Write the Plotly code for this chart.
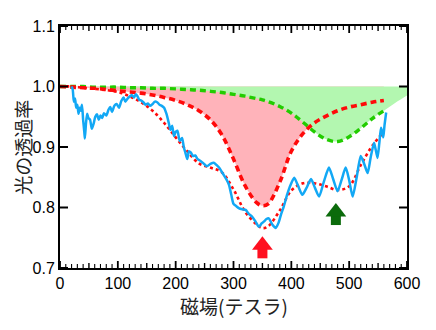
import plotly.graph_objects as go

# ---- data ----
field_model = [0, 20, 40, 60, 80, 100, 120, 140, 160, 180, 200, 220, 240, 260, 280, 300,
               320, 340, 350, 360, 380, 400, 420, 440, 460, 480, 500, 520, 540, 560]
red_dip = [1.0, 0.999, 0.998, 0.997, 0.995, 0.993, 0.991, 0.989, 0.986, 0.982, 0.977, 0.970,
           0.960, 0.945, 0.920, 0.880, 0.836, 0.808, 0.803, 0.806, 0.842, 0.893, 0.922, 0.940,
           0.951, 0.960, 0.966, 0.970, 0.974, 0.977]
green_dip = [1.0, 1.0, 1.0, 0.999, 0.999, 0.999, 0.998, 0.998, 0.997, 0.997, 0.996, 0.995,
             0.994, 0.992, 0.990, 0.987, 0.984, 0.980, 0.978, 0.975, 0.967, 0.956, 0.941, 0.925,
             0.913, 0.909, 0.917, 0.931, 0.947, 0.960]
fit_total = [1.0, 1.0, 0.998, 0.996, 0.994, 0.991, 0.984, 0.974, 0.960, 0.940, 0.916, 0.893,
             0.873, 0.866, 0.858, 0.830, 0.793, 0.772, 0.766, 0.769, 0.795, 0.828, 0.840, 0.840,
             0.835, 0.829, 0.835, 0.870, 0.902, 0.925]
green_fill_x = [560, 580, 600]
green_fill_y = [0.960, 0.973, 0.985]

meas_field = [20, 22, 24, 26, 28, 30, 32, 34, 36, 38, 40, 42, 43, 45, 47, 49, 52, 55, 58, 61,
              64, 67, 70, 73, 76, 80, 84, 87, 90, 94, 98, 102, 106, 110, 113, 116, 120, 124,
              128, 131, 134, 137, 140, 144, 148, 152, 156, 160, 164, 168, 172, 176, 180, 184,
              188, 191, 194, 197, 200, 203, 207, 211, 214, 217, 220, 223, 226, 230, 234, 238,
              243, 248, 254, 260, 266, 271, 275, 279, 283, 288, 292, 296, 300, 305, 309, 315,
              321, 326, 332, 338, 344, 349, 353, 357, 361, 367, 373, 378, 382, 387, 393, 399,
              405, 412, 419, 426, 434, 441, 448, 456, 465, 472, 480, 487, 494, 500, 506, 513,
              520, 526, 532, 537, 543, 546, 549, 552, 555, 557, 559, 561, 564]
meas_trans = [1.0, 0.995, 0.975, 0.98, 0.965, 0.97, 0.955, 0.965, 0.96, 0.97, 0.945, 0.925,
              0.914, 0.94, 0.955, 0.948, 0.945, 0.93, 0.938, 0.95, 0.954, 0.945, 0.952, 0.948,
              0.956, 0.952, 0.962, 0.966, 0.958, 0.968, 0.971, 0.965, 0.976, 0.982, 0.975,
              0.979, 0.983, 0.986, 0.982, 0.987, 0.984, 0.978, 0.977, 0.974, 0.97, 0.972, 0.968,
              0.971, 0.975, 0.974, 0.97, 0.968, 0.965, 0.955, 0.94, 0.928, 0.935, 0.918, 0.925,
              0.927, 0.91, 0.915, 0.9, 0.89, 0.88, 0.893, 0.891, 0.885, 0.886, 0.88, 0.877,
              0.873, 0.868, 0.872, 0.874, 0.87, 0.866, 0.86, 0.854, 0.846, 0.838, 0.822, 0.806,
              0.802, 0.799, 0.797, 0.796, 0.79, 0.785, 0.777, 0.768, 0.774, 0.777, 0.781, 0.782,
              0.772, 0.766, 0.775, 0.788, 0.802, 0.822, 0.838, 0.849, 0.835, 0.821, 0.832,
              0.847, 0.832, 0.818, 0.842, 0.866, 0.848, 0.827, 0.846, 0.866, 0.845, 0.818, 0.85,
              0.885, 0.872, 0.857, 0.882, 0.907, 0.895, 0.882, 0.905, 0.932, 0.925, 0.916,
              0.935, 0.957]

arrow_field = [350, 477]
arrow_head_center = [0.7375, 0.7925]
arrow_stem_bottom = [0.716, 0.771]
arrow_stem_top = [0.741, 0.796]
arrow_colors = ["#ff1020", "#0b6b0b"]

x_title = "磁場(テスラ)"
y_title = "光の透過率"
x_range = [0, 600]
y_range = [0.7, 1.1]
x_tick_step = 100
x_mid_step = 50
x_minor_step = 10
y_tick_step = 0.1

# ---- geometry of the frame (pixels -> data units for tick marks) ----
W, H = 436, 330
M = dict(l=60, r=29, t=26, b=62)
plot_w = W - M["l"] - M["r"]
plot_h = H - M["t"] - M["b"]
ux = (x_range[1] - x_range[0]) / plot_w
uy = (y_range[1] - y_range[0]) / plot_h

fig = go.Figure()
ones_model = [1.0 for _ in field_model]
fig.add_trace(go.Scatter(x=field_model, y=ones_model, mode="lines",
                         line=dict(width=0), hoverinfo="skip"))
fig.add_trace(go.Scatter(x=field_model, y=red_dip, mode="lines", fill="tonexty",
                         line_shape="spline", fillcolor="#ffb3ba", line=dict(width=0),
                         hoverinfo="skip"))
gx = field_model + green_fill_x[1:]
gy = green_dip + green_fill_y[1:]
fig.add_trace(go.Scatter(x=gx, y=[1.0 for _ in gx], mode="lines",
                         line=dict(width=0), hoverinfo="skip"))
fig.add_trace(go.Scatter(x=gx, y=gy, mode="lines", fill="tonexty", line_shape="spline",
                         fillcolor="#b3f7b0", line=dict(width=0), hoverinfo="skip"))
fig.add_trace(go.Scatter(x=field_model, y=green_dip, mode="lines", line_shape="spline",
                         line=dict(color="#22cc00", width=3.4, dash="6px,4px")))
fig.add_trace(go.Scatter(x=field_model, y=red_dip, mode="lines", line_shape="spline",
                         line=dict(color="#ff0a0a", width=3.6, dash="6px,4px")))
fig.add_trace(go.Scatter(x=field_model, y=fit_total, mode="lines", line_shape="spline",
                         line=dict(color="#ff0a0a", width=2.6, dash="3px,3px")))
fig.add_trace(go.Scatter(x=meas_field, y=meas_trans, mode="lines", line_shape="spline",
                         line=dict(color="#12a8f5", width=2.5, smoothing=0.6)))

# block arrows: thick stem + triangle head
for xa, yc, yb, yt, c in zip(arrow_field, arrow_head_center, arrow_stem_bottom,
                             arrow_stem_top, arrow_colors):
    fig.add_trace(go.Scatter(x=[xa, xa], y=[yb, yt], mode="lines",
                             line=dict(color=c, width=10), hoverinfo="skip"))
    fig.add_trace(go.Scatter(x=[xa], y=[yc], mode="markers", hoverinfo="skip",
                             marker=dict(symbol="triangle-up", size=18, color=c,
                                         line=dict(width=0))))


# inward tick marks on all four sides of the frame
def x_tick_trace(step, skip, length_px, width):
    xs, ys = [], []
    n = int(round((x_range[1] - x_range[0]) / step))
    for i in range(n + 1):
        v = x_range[0] + i * step
        if skip and abs(v / skip - round(v / skip)) < 1e-9:
            continue
        xs += [v, v, None, v, v, None]
        ys += [y_range[0], y_range[0] + length_px * uy, None,
               y_range[1], y_range[1] - length_px * uy, None]
    return go.Scatter(x=xs, y=ys, mode="lines", hoverinfo="skip",
                      line=dict(color="black", width=width))


fig.add_trace(x_tick_trace(x_minor_step, x_mid_step, 4, 1.1))
fig.add_trace(x_tick_trace(x_mid_step, x_tick_step, 5, 1.4))
fig.add_trace(x_tick_trace(x_tick_step, None, 7, 1.8))

ys_t, xs_t = [], []
n_y = int(round((y_range[1] - y_range[0]) / y_tick_step))
for i in range(n_y + 1):
    v = y_range[0] + i * y_tick_step
    ys_t += [v, v, None, v, v, None]
    xs_t += [x_range[0], x_range[0] + 8 * ux, None, x_range[1], x_range[1] - 8 * ux, None]
fig.add_trace(go.Scatter(x=xs_t, y=ys_t, mode="lines", hoverinfo="skip",
                         line=dict(color="black", width=2)))

tick_font = dict(family="Liberation Sans, Arial, sans-serif", size=16, color="black")
title_font = dict(family="Noto Sans CJK JP", size=19, color="#222")

fig.add_annotation(text=x_title, xref="paper", yref="paper", x=0.5, y=-0.153,
                   xanchor="center", yanchor="middle", showarrow=False, font=title_font)
fig.add_annotation(text=y_title, xref="paper", yref="paper", x=-0.11, y=0.5,
                   xanchor="center", yanchor="middle", textangle=-90, showarrow=False,
                   font=title_font)

fig.update_layout(
    width=W, height=H, showlegend=False,
    margin=M,
    paper_bgcolor="white", plot_bgcolor="white",
    xaxis=dict(range=x_range, tickmode="linear", tick0=0, dtick=x_tick_step,
               ticks="", automargin=False,
               showline=True, linecolor="black", linewidth=2,
               mirror=True, showgrid=False, zeroline=False, tickfont=tick_font),
    yaxis=dict(range=y_range, tickmode="linear", tick0=0.7, dtick=y_tick_step,
               tickformat=".1f", ticks="", automargin=False,
               showline=True, linecolor="black", linewidth=2, mirror=True,
               showgrid=False, zeroline=False, tickfont=tick_font),
)

fig.write_html("out.html")
